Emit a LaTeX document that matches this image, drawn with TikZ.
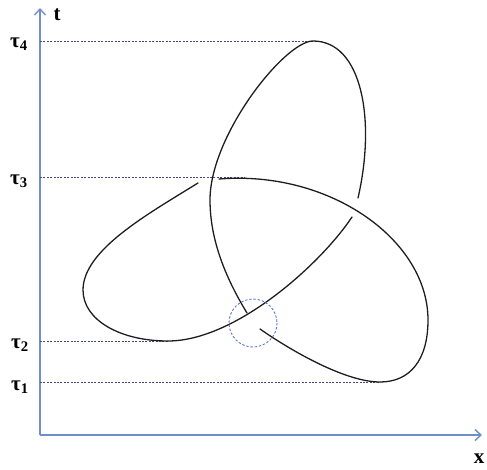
\documentclass[tikz,border=0pt]{standalone}
\usepackage{fontspec}
\setmainfont{Liberation Serif}
\usetikzlibrary{arrows.meta}
\definecolor{AxisBlue}{HTML}{6F8FC8}
\definecolor{LevelNavy}{HTML}{3E4C80}
\definecolor{RingBlue}{HTML}{5C73D2}
\definecolor{KnotInk}{HTML}{1E1E1E}

\begin{document}
\begin{tikzpicture}[
    x=1pt, y=-1pt,
    axis/.style={
      -{Straight Barb[length=6pt,width=11pt,line width=1.4pt]},
      line width=1.6pt,
      color=AxisBlue
    },
    level/.style={
      line width=0.8pt,
      dash pattern=on 2pt off 1.4pt,
      color=LevelNavy
    },
    strand/.style={
      line width=1.3pt,
      color=KnotInk,
      line cap=round
    },
    ring/.style={
      line width=0.9pt,
      dash pattern=on 2.4pt off 1.8pt,
      color=RingBlue
    },
    lab/.style={
      font=\fontsize{21}{24}\selectfont\bfseries,
      inner sep=0pt
    }
  ]
  \useasboundingbox (0,0) rectangle (487,469);

  % Axes
  \coordinate (O) at (40,435);
  \coordinate (ttip) at (40,8);
  \coordinate (xtip) at (482,435);
  \draw[axis] (O) -- (ttip);
  \draw[axis] (O) -- (xtip);
  \node[lab] (tlab) at (57,15) {t};
  \node[lab] (xlab) at (479,459) {x};

  % Knot extremes
  \coordinate (k4) at (313,41);
  \coordinate (k3) at (245,177);
  \coordinate (k2) at (168,341);
  \coordinate (k1) at (380,382);
  \coordinate (kr) at (428,320);
  \coordinate (kl) at (83,290);
  \coordinate (kv) at (210,200);

  % Levels
  \node[lab] (tau4) at (19,44) {τ\textsubscript{4}};
  \node[lab] (tau3) at (19,181) {τ\textsubscript{3}};
  \node[lab] (tau2) at (20,345) {τ\textsubscript{2}};
  \node[lab] (tau1) at (20,387) {τ\textsubscript{1}};
  \draw[level] (40,41) -- (k4);
  \draw[level] (40,177) -- (k3);
  \draw[level] (40,341) -- (k2);
  \draw[level] (40,382) -- (k1);

  % Knot strands
  \draw[strand] (219,179) .. controls (330,170) and (428,240) .. (kr)
    .. controls (428,360) and (410,382) .. (k1)
    .. controls (345,382) and (290,350) .. (260,329);
  \draw[strand] (352,217) .. controls (320,265) and (235,341) .. (k2)
    .. controls (120,341) and (83,320) .. (kl)
    .. controls (83,250) and (148,214) .. (198,183);
  \draw[strand] (358,198) .. controls (376,120) and (362,41) .. (k4)
    .. controls (285,41) and (210,135) .. (kv)
    .. controls (210,245) and (230,285) .. (247,313);

  % Crossing
  \draw[ring] (253,323) circle[radius=24];
\end{tikzpicture}
\end{document}
